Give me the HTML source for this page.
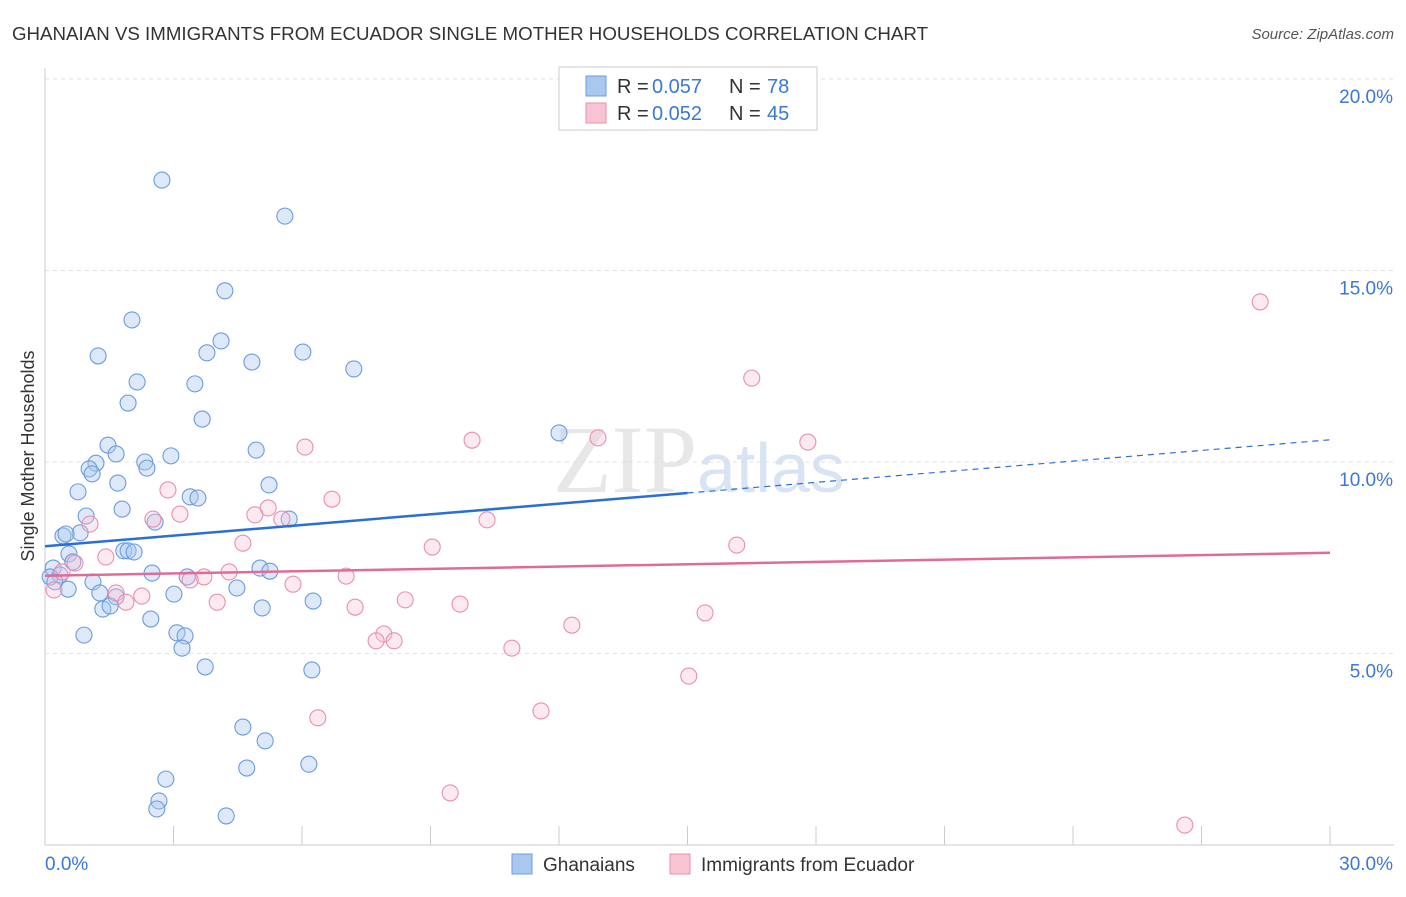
<!DOCTYPE html>
<html><head><meta charset="utf-8"><style>
body{margin:0;background:#fff;font-family:"Liberation Sans",sans-serif;}
</style></head><body>
<svg id="chart" width="1406" height="892" xmlns="http://www.w3.org/2000/svg" font-family="Liberation Sans, sans-serif">
<text x="12" y="40" font-size="18" fill="#333" textLength="916" lengthAdjust="spacingAndGlyphs">GHANAIAN VS IMMIGRANTS FROM ECUADOR SINGLE MOTHER HOUSEHOLDS CORRELATION CHART</text>
<text x="1394" y="39" font-size="15" fill="#555" font-style="italic" text-anchor="end">Source: ZipAtlas.com</text>
<text transform="translate(34,456) rotate(-90)" font-size="18" fill="#333" text-anchor="middle">Single Mother Households</text>
<g id="grid"></g>
<text x="553" y="492" font-size="96" fill="#ddd" font-family="Liberation Serif, serif" opacity="0.7">ZIP<tspan fill="#c8daf0" font-family="Liberation Sans, sans-serif" font-size="70">atlas</tspan></text>
<g id="points"></g>
<g id="trends"></g>
<g>
<rect x="559" y="67" width="258" height="63" fill="#fff" stroke="#ccc"/>
<rect x="586" y="76" width="20" height="20" fill="#a9c8f0" stroke="#6b9be0"/>
<rect x="586" y="103" width="20" height="20" fill="#f8c3d3" stroke="#e890ad"/>
<text x="617" y="93" font-size="20" fill="#333">R =</text>
<text x="652" y="93" font-size="20" fill="#3a78d8">0.057</text>
<text x="729" y="93" font-size="20" fill="#333">N =</text>
<text x="767" y="93" font-size="20" fill="#3a78d8">78</text>
<text x="617" y="120" font-size="20" fill="#333">R =</text>
<text x="652" y="120" font-size="20" fill="#3a78d8">0.052</text>
<text x="729" y="120" font-size="20" fill="#333">N =</text>
<text x="767" y="120" font-size="20" fill="#3a78d8">45</text>
</g>
<g>
<rect x="512" y="854" width="20" height="20" fill="#a9c8f0" stroke="#6b9be0"/>
<text x="543" y="871" font-size="19" fill="#333">Ghanaians</text>
<rect x="670" y="854" width="20" height="20" fill="#f8c3d3" stroke="#e890ad"/>
<text x="701" y="871" font-size="19" fill="#333">Immigrants from Ecuador</text>
</g>
</svg>
<script>
const xTicks=[0,3,6,9,12,15,18,21,24,27,30];
const yTicks=[5,10,15,20];
const yTickLabels=["5.0%","10.0%","15.0%","20.0%"];
const blueX=[2.73,5.60,4.20,2.03,1.24,3.78,4.11,4.83,6.02,7.21,2.15,3.50,1.94,3.67,12.0,1.47,1.66,4.93,2.94,1.19,1.03,2.33,1.10,2.38,1.70,5.23,0.77,3.39,3.57,1.80,0.96,2.57,5.70,0.82,0.42,0.49,0.56,1.84,1.94,2.08,0.65,0.19,0.35,5.02,5.25,2.50,3.32,0.12,0.23,1.12,0.54,4.48,1.28,1.66,3.01,6.26,1.35,1.52,5.07,2.47,0.91,3.08,3.27,3.20,3.74,6.23,4.62,5.14,4.71,6.16,2.82,2.66,2.61,4.23];
const blueY=[17.36,16.42,14.47,13.71,12.77,12.85,13.16,12.61,12.87,12.43,12.09,12.04,11.54,11.12,10.76,10.44,10.21,10.31,10.16,9.97,9.82,10.0,9.69,9.84,9.45,9.40,9.22,9.09,9.06,8.77,8.59,8.43,8.51,8.15,8.07,8.12,7.60,7.68,7.68,7.65,7.39,7.23,7.05,7.23,7.15,7.10,7.00,7.00,6.87,6.87,6.68,6.71,6.58,6.48,6.55,6.37,6.16,6.24,6.19,5.90,5.48,5.54,5.46,5.14,4.65,4.57,3.08,2.72,2.01,2.11,1.72,1.15,0.94,0.76];
const pinkX=[28.37,16.5,6.07,9.97,12.91,17.81,2.87,6.70,1.05,2.52,3.15,10.32,5.21,4.90,5.53,4.62,9.04,16.15,1.42,0.70,0.40,4.30,3.71,7.03,3.39,5.79,1.66,2.26,0.21,1.89,4.02,8.41,7.24,9.69,15.41,12.30,7.91,7.73,8.15,10.90,15.03,6.37,11.58,9.46,26.61];
const pinkY=[14.18,12.19,10.39,10.57,10.63,10.52,9.27,9.03,8.38,8.51,8.64,8.49,8.80,8.62,8.51,7.88,7.78,7.83,7.52,7.36,7.13,7.13,7.00,7.02,6.92,6.81,6.58,6.50,6.66,6.34,6.34,6.40,6.21,6.29,6.06,5.74,5.51,5.33,5.33,5.14,4.41,3.32,3.50,1.36,0.52];
const blueTrend=[7.80,10.58];
const pinkTrend=[7.03,7.63];
const X=v=>45+v/30*1285, Y=v=>845-v/5*191.5;
const NS="http://www.w3.org/2000/svg";
function mk(tag,attrs,parent){const e=document.createElementNS(NS,tag);for(const k in attrs)e.setAttribute(k,attrs[k]);parent.appendChild(e);return e;}
const grid=document.getElementById('grid');
mk('line',{x1:45,y1:68,x2:45,y2:845,stroke:'#ccc'},grid);
mk('line',{x1:45,y1:845,x2:1394,y2:845,stroke:'#ccc'},grid);
yTicks.forEach((t,i)=>{
 const g=mk('line',{x1:45,y1:Y(t),x2:1394,y2:Y(t),stroke:'#e2e2e2','stroke-dasharray':'4,4'},grid);
 
 
 const tx=mk('text',{x:1393,y:Y(t)+24,'font-size':19,fill:'#3a78d8','text-anchor':'end'},grid);
 tx.textContent=yTickLabels[i];
 
 
});
xTicks.forEach(t=>{
 const l=mk('line',{x1:X(t),y1:826,x2:X(t),y2:845,stroke:'#ccc'},grid);
 
 
});
const xl0=mk('text',{x:45,y:870,'font-size':19,fill:'#3a78d8'},grid);xl0.textContent='0.0%';


const xl1=mk('text',{x:1393,y:870,'font-size':19,fill:'#3a78d8','text-anchor':'end'},grid);xl1.textContent='30.0%';


const pts=document.getElementById('points');
blueX.forEach((v,i)=>{
 const c=mk('circle',{cx:X(v),cy:Y(blueY[i]),r:8,fill:'rgba(169,200,240,0.4)',stroke:'#6b9be0','stroke-width':1.1},pts);
 
 
});
pinkX.forEach((v,i)=>{
 const c=mk('circle',{cx:X(v),cy:Y(pinkY[i]),r:8,fill:'rgba(248,195,211,0.35)',stroke:'#e890ad','stroke-width':1.1},pts);
 
 
});
const tr=document.getElementById('trends');
const bAt=x=>blueTrend[0]+(blueTrend[1]-blueTrend[0])*x/30;
const b1=mk('line',{x1:X(0),y1:Y(bAt(0)),x2:X(15),y2:Y(bAt(15)),stroke:'#2a6fd6','stroke-width':2.5},tr);


const b2=mk('line',{x1:X(15),y1:Y(bAt(15)),x2:X(30),y2:Y(bAt(30)),stroke:'#2a6fd6','stroke-width':1.2,'stroke-dasharray':'6,5'},tr);


const p1=mk('line',{x1:X(0),y1:Y(pinkTrend[0]),x2:X(30),y2:Y(pinkTrend[1]),stroke:'#e06b98','stroke-width':2.5},tr);


</script>
</body></html>
